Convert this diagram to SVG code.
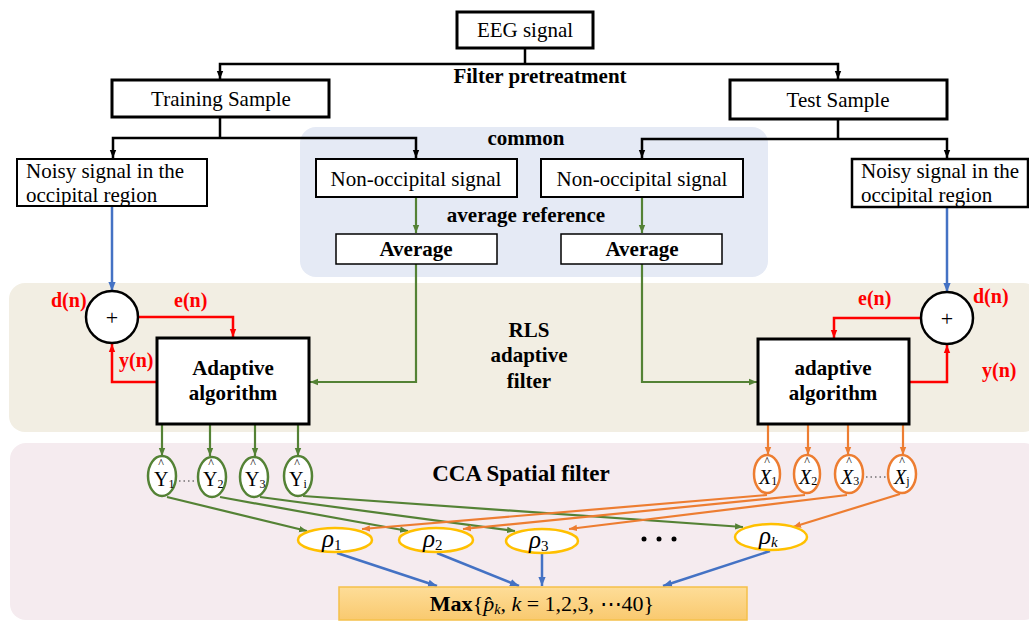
<svg xmlns="http://www.w3.org/2000/svg" width="1029" height="622" viewBox="0 0 1029 622">
<style>
.t{font-family:"Liberation Serif","Times New Roman",serif;font-size:21px;fill:#000}
.b{font-weight:bold}
.c{text-anchor:middle}
.red{fill:#ff0000;font-weight:bold}
.box{fill:#fff;stroke:#000}
.bk{stroke:#000;stroke-width:2.5;fill:none}
.gr{stroke:#548235;stroke-width:2.2;fill:none}
.or{stroke:#ed7d31;stroke-width:2.2;fill:none}
.bl{stroke:#4472c4;stroke-width:2.5;fill:none}
.rd{stroke:#ff0000;stroke-width:2.5;fill:none}
.ye{fill:#fff;stroke:#ffc000;stroke-width:2.5}
.ge{fill:#fff;stroke:#548235;stroke-width:2.5}
.oe{fill:#fff;stroke:#ed7d31;stroke-width:2.5}
</style>
<defs>
<marker id="mb" viewBox="0 0 10 10" refX="10" refY="5" markerWidth="8" markerHeight="8" orient="auto" markerUnits="userSpaceOnUse"><path d="M0,1 L10,5 L0,9 z" fill="#000"/></marker>
<marker id="mg" viewBox="0 0 10 10" refX="10" refY="5" markerWidth="8" markerHeight="8" orient="auto" markerUnits="userSpaceOnUse"><path d="M0,1 L10,5 L0,9 z" fill="#548235"/></marker>
<marker id="mo" viewBox="0 0 10 10" refX="10" refY="5" markerWidth="8" markerHeight="8" orient="auto" markerUnits="userSpaceOnUse"><path d="M0,1 L10,5 L0,9 z" fill="#ed7d31"/></marker>
<marker id="ml" viewBox="0 0 10 10" refX="10" refY="5" markerWidth="9" markerHeight="9" orient="auto" markerUnits="userSpaceOnUse"><path d="M0,1 L10,5 L0,9 z" fill="#4472c4"/></marker>
<marker id="mr" viewBox="0 0 10 10" refX="10" refY="5" markerWidth="8" markerHeight="8" orient="auto" markerUnits="userSpaceOnUse"><path d="M0,1 L10,5 L0,9 z" fill="#ff0000"/></marker>
<linearGradient id="gmax" x1="0" y1="0" x2="0" y2="1"><stop offset="0" stop-color="#fedd98"/><stop offset="1" stop-color="#f9c96f"/></linearGradient>
</defs>

<g id="regions">
<rect x="300" y="127" width="468" height="150" rx="16" fill="#e5eaf5"/>
<rect x="9" y="283" width="1030" height="149" rx="16" fill="#f2eee3"/>
<rect x="10" y="443" width="1030" height="177" rx="16" fill="#f5ebef"/>
</g>

<g id="labels">
<text class="t b c" x="540" y="83">Filter pretreatment</text>
<text class="t b c" x="526" y="145">common</text>
<text class="t b c" x="526" y="222">average reference</text>
<text class="t b c" x="529" y="337">RLS</text>
<text class="t b c" x="529" y="362">adaptive</text>
<text class="t b c" x="529" y="388">filter</text>
<text class="t b c" x="521" y="481" style="font-size:23px">CCA Spatial filter</text>
<text class="t red" x="51" y="307" style="font-size:20px">d(n)</text>
<text class="t red" x="174" y="307" style="font-size:20px">e(n)</text>
<text class="t red" x="119" y="367" style="font-size:20px">y(n)</text>
<text class="t red" x="973" y="303" style="font-size:20px">d(n)</text>
<text class="t red" x="858" y="305" style="font-size:20px">e(n)</text>
<text class="t red" x="982" y="377" style="font-size:20px">y(n)</text>
</g>

<g id="connectors">
<path class="bk" d="M525,48 V64"/>
<path class="bk" d="M525,64 H220 V79" marker-end="url(#mb)"/>
<path class="bk" d="M525,64 H838 V79" marker-end="url(#mb)"/>
<path class="bk" d="M220,117 V138"/>
<path class="bk" d="M220,138 H113 V158" marker-end="url(#mb)"/>
<path class="bk" d="M220,138 H416 V158" marker-end="url(#mb)"/>
<path class="bk" d="M838,119 V139"/>
<path class="bk" d="M838,139 H642 V158" marker-end="url(#mb)"/>
<path class="bk" d="M838,139 H947 V158" marker-end="url(#mb)"/>
<path class="gr" d="M416,197 V233" marker-end="url(#mg)"/>
<path class="gr" d="M642,197 V233" marker-end="url(#mg)"/>
<path class="gr" d="M416,264 V382 H310" marker-end="url(#mg)"/>
<path class="gr" d="M642,264 V382 H757" marker-end="url(#mg)"/>
<path class="bl" d="M112,207 V291" marker-end="url(#ml)"/>
<path class="bl" d="M947,207 V292" marker-end="url(#ml)"/>
<path class="rd" d="M138,317 H233 V337" marker-end="url(#mr)"/>
<path class="rd" d="M157,382 H112 V344" marker-end="url(#mr)"/>
<path class="rd" d="M921,318 H834 V338" marker-end="url(#mr)"/>
<path class="rd" d="M909,382 H947 V345" marker-end="url(#mr)"/>
<path class="gr" d="M162,425 V456" marker-end="url(#mg)"/>
<path class="gr" d="M210,425 V456" marker-end="url(#mg)"/>
<path class="gr" d="M255,425 V456" marker-end="url(#mg)"/>
<path class="gr" d="M298,425 V456" marker-end="url(#mg)"/>
<path class="or" d="M768,425 V455" marker-end="url(#mo)"/>
<path class="or" d="M808,425 V455" marker-end="url(#mo)"/>
<path class="or" d="M848,425 V455" marker-end="url(#mo)"/>
<path class="or" d="M903,425 V455" marker-end="url(#mo)"/>
<path class="gr" d="M167,497 L307,531" marker-end="url(#mg)"/>
<path class="gr" d="M220,497 L408,531" marker-end="url(#mg)"/>
<path class="gr" d="M260,497 L515,531" marker-end="url(#mg)"/>
<path class="gr" d="M303,496 L743,527" marker-end="url(#mg)"/>
<path class="or" d="M767,495 L362,529" marker-end="url(#mo)"/>
<path class="or" d="M805,495 L463,529" marker-end="url(#mo)"/>
<path class="or" d="M847,495 L569,529" marker-end="url(#mo)"/>
<path class="or" d="M900,494 L793,527" marker-end="url(#mo)"/>
<path class="bl" d="M337,553 L437,586" marker-end="url(#ml)"/>
<path class="bl" d="M437,553 L519,586" marker-end="url(#ml)"/>
<path class="bl" d="M542,553 V586" marker-end="url(#ml)"/>
<path class="bl" d="M770,551 L663,586" marker-end="url(#ml)"/>
</g>

<g id="eeg"><rect class="box" x="457" y="12" width="136" height="36" stroke-width="3"/><text class="t c" x="525" y="37">EEG signal</text></g>
<g id="training"><rect class="box" x="112" y="80" width="217" height="37" stroke-width="3"/><text class="t c" x="221" y="106">Training Sample</text></g>
<g id="test"><rect class="box" x="730" y="80" width="217" height="39" stroke-width="3"/><text class="t c" x="838" y="107">Test Sample</text></g>
<g id="noisy-left"><rect class="box" x="17" y="159" width="190" height="47" stroke-width="2"/><text class="t" x="26" y="178">Noisy signal in the</text><text class="t" x="26" y="202">occipital region</text></g>
<g id="noisy-right"><rect class="box" x="852" y="159" width="176" height="48" stroke-width="2.5"/><text class="t" x="861" y="178">Noisy signal in the</text><text class="t" x="861" y="202">occipital region</text></g>
<g id="nonocc-left"><rect class="box" x="316" y="159" width="201" height="38" stroke-width="2"/><text class="t c" x="416" y="186">Non-occipital signal</text></g>
<g id="nonocc-right"><rect class="box" x="541" y="159" width="202" height="38" stroke-width="2"/><text class="t c" x="642" y="186">Non-occipital signal</text></g>
<g id="average-left"><rect class="box" x="336" y="234" width="161" height="30" stroke-width="1.5"/><text class="t b c" x="416" y="256">Average</text></g>
<g id="average-right"><rect class="box" x="561" y="234" width="161" height="30" stroke-width="1.5"/><text class="t b c" x="642" y="256">Average</text></g>
<g id="sum-left"><circle cx="112" cy="317" r="26" fill="#fff" stroke="#000" stroke-width="2.5"/><text class="t c" x="112" y="325" style="font-size:22px">+</text></g>
<g id="sum-right"><circle cx="947" cy="318" r="26" fill="#fff" stroke="#000" stroke-width="2.5"/><text class="t c" x="947" y="326" style="font-size:22px">+</text></g>
<g id="adaptive-left"><rect class="box" x="157" y="338" width="152" height="86" stroke-width="3"/><text class="t b c" x="233" y="375">Adaptive</text><text class="t b c" x="233" y="400">algorithm</text></g>
<g id="adaptive-right"><rect class="box" x="758" y="339" width="151" height="85" stroke-width="3"/><text class="t b c" x="833" y="375">adaptive</text><text class="t b c" x="833" y="400">algorithm</text></g>

<g id="y1"><ellipse class="ge" cx="162" cy="476" rx="14" ry="20"/><text class="t c" x="161" y="467" style="font-size:12px">^</text><text class="t" x="154" y="486" style="font-size:20px">Y<tspan font-size="12" dy="2">1</tspan></text></g>
<g id="y2"><ellipse class="ge" cx="212" cy="477" rx="14" ry="20"/><text class="t c" x="211" y="467" style="font-size:12px">^</text><text class="t" x="203" y="486" style="font-size:20px">Y<tspan font-size="12" dy="2">2</tspan></text></g>
<g id="y3"><ellipse class="ge" cx="254" cy="477" rx="14" ry="20"/><text class="t c" x="253" y="467" style="font-size:12px">^</text><text class="t" x="245" y="486" style="font-size:20px">Y<tspan font-size="12" dy="2">3</tspan></text></g>
<g id="yi"><ellipse class="ge" cx="298" cy="476" rx="14" ry="20"/><text class="t c" x="297" y="467" style="font-size:12px">^</text><text class="t" x="289" y="486" style="font-size:20px">Y<tspan font-size="12" dy="2">i</tspan></text></g>
<line x1="179" y1="481" x2="197" y2="481" stroke="#333" stroke-width="1.2" stroke-dasharray="1.5 3"/>

<g id="x1"><ellipse class="oe" cx="767" cy="474" rx="13" ry="19"/><text class="t c" x="767" y="465" style="font-size:12px">^</text><text class="t" x="759" y="484" style="font-size:20px;font-style:italic">X<tspan font-size="12" font-style="normal" dy="1">1</tspan></text></g>
<g id="x2"><ellipse class="oe" cx="807" cy="474" rx="13" ry="19"/><text class="t c" x="807" y="465" style="font-size:12px">^</text><text class="t" x="799" y="484" style="font-size:20px;font-style:italic">X<tspan font-size="12" font-style="normal" dy="1">2</tspan></text></g>
<g id="x3"><ellipse class="oe" cx="849" cy="474" rx="14" ry="19"/><text class="t c" x="849" y="465" style="font-size:12px">^</text><text class="t" x="841" y="484" style="font-size:20px;font-style:italic">X<tspan font-size="12" font-style="normal" dy="1">3</tspan></text></g>
<g id="xj"><ellipse class="oe" cx="902" cy="474" rx="14" ry="19"/><text class="t c" x="902" y="465" style="font-size:12px">^</text><text class="t" x="894" y="484" style="font-size:20px;font-style:italic">X<tspan font-size="12" font-style="normal" dy="1">j</tspan></text></g>
<line x1="866" y1="477" x2="886" y2="477" stroke="#333" stroke-width="1.2" stroke-dasharray="1.5 3"/>

<g id="rho1"><ellipse class="ye" cx="335" cy="540" rx="37" ry="12"/><text class="t" x="322" y="547" style="font-size:25px;font-style:italic">ρ<tspan font-size="15" font-style="normal" dy="3">1</tspan></text></g>
<g id="rho2"><ellipse class="ye" cx="436" cy="540" rx="37" ry="12"/><text class="t" x="423" y="547" style="font-size:25px;font-style:italic">ρ<tspan font-size="15" font-style="normal" dy="3">2</tspan></text></g>
<g id="rho3"><ellipse class="ye" cx="542" cy="541" rx="36" ry="12"/><text class="t" x="529" y="548" style="font-size:25px;font-style:italic">ρ<tspan font-size="15" font-style="normal" dy="3">3</tspan></text></g>
<g id="rhok"><ellipse class="ye" cx="771" cy="537" rx="36" ry="13"/><text class="t" x="759" y="544" style="font-size:25px;font-style:italic">ρ<tspan font-size="15" dy="3">k</tspan></text></g>
<g id="dots"><circle cx="644" cy="539" r="2.5"/><circle cx="659" cy="539" r="2.5"/><circle cx="674" cy="539" r="2.5"/></g>

<g id="max"><rect x="339" y="587" width="408" height="33" fill="url(#gmax)" stroke="#f5c04a" stroke-width="1.5"/><text class="t c" x="542" y="611" style="font-size:22px"><tspan font-weight="bold">Max</tspan>{<tspan font-style="italic">p̂</tspan><tspan font-style="italic" font-size="14" dy="3">k</tspan><tspan dy="-3">, </tspan><tspan font-style="italic">k</tspan> = 1,2,3, ⋯40}</text></g>
</svg>
